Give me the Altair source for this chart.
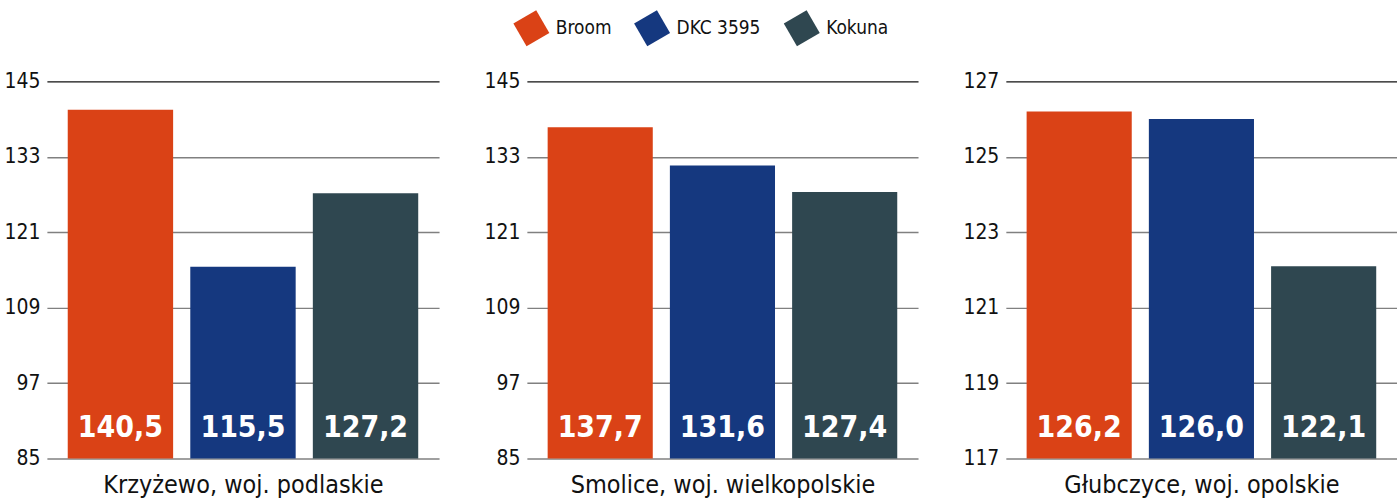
import altair as alt
import pandas as pd

FONT = "DejaVu Sans Condensed"

series = ["Broom", "DKC 3595", "Kokuna"]
colors = ["#DA4216", "#15387F", "#2F4750"]
locations = ["Krzyżewo, woj. podlaskie", "Smolice, woj. wielkopolskie", "Głubczyce, woj. opolskie"]
values_krzyzewo = [140.5, 115.5, 127.2]
values_smolice = [137.7, 131.6, 127.4]
values_glubczyce = [126.2, 126.0, 122.1]
all_values = [values_krzyzewo, values_smolice, values_glubczyce]
y_domains = [[85, 145], [85, 145], [117, 127]]
y_ticks = [[85, 97, 109, 121, 133, 145], [85, 97, 109, 121, 133, 145], [117, 119, 121, 123, 125, 127]]
widths = [393, 392, 392]

DIAMOND = "M0.268,-1L1,0.268L-0.268,1L-1,-0.268Z"

legend = alt.Legend(
    title=None, orient="none", legendX=467, legendY=-72, direction="horizontal",
    symbolType=DIAMOND, symbolSize=1300, symbolStrokeWidth=0, symbolOpacity=1,
    labelFontSize=19, labelFont=FONT, labelColor="#111", labelOffset=6,
    columnPadding=22,
)


def panel(i):
    vals = all_values[i]
    df = pd.DataFrame({
        "series": series,
        "value": vals,
        "label": [f"{v:.1f}".replace(".", ",") for v in vals],
    })
    lo, hi = y_domains[i]
    x = alt.X(
        "series:N", sort=series,
        scale=alt.Scale(paddingInner=0.14, paddingOuter=0.17),
        axis=alt.Axis(title=locations[i], labels=False, ticks=False, domain=False,
                      titleFontSize=25, titlePadding=14, titleFont=FONT,
                      titleFontWeight="normal", titleColor="#111"),
    )
    yscale = alt.Scale(domain=[lo, hi], nice=False, zero=False)
    bars = alt.Chart(df).mark_bar().encode(
        x=x,
        y=alt.Y("value:Q", scale=yscale,
                axis=alt.Axis(values=y_ticks[i], title=None, grid=True, ticks=False, domain=False,
                              labelPadding=7,
                              gridColor={"condition": {"test": f"datum.value == {hi}", "value": "#111111"},
                                         "value": "#808080"})),
        y2=alt.Y2(datum=lo),
        color=alt.Color("series:N", scale=alt.Scale(domain=series, range=colors), legend=legend),
    )
    text = alt.Chart(df).mark_text(
        color="white", font=FONT, fontSize=30, fontWeight="bold",
        baseline="alphabetic", align="center", dy=-22,
    ).encode(
        x=alt.X("series:N", sort=series),
        y=alt.Y(datum=lo, scale=yscale),
        text="label:N",
    )
    return alt.layer(bars, text).properties(width=widths[i], height=378)


chart = alt.hconcat(panel(0), panel(1), panel(2), spacing=44).properties(
    padding={"left": 3, "top": 9, "right": 0, "bottom": 0}
).configure_view(stroke=None).configure_axis(
    labelFont=FONT, labelFontSize=21, labelColor="#111", gridWidth=1.4
)

chart.save("out.html", embed_options={"renderer": "svg", "actions": False})
